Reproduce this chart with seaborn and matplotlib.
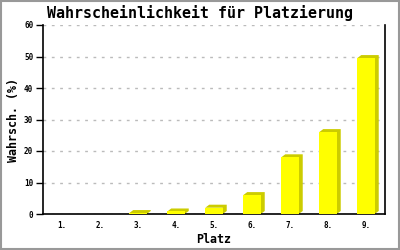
import matplotlib
matplotlib.use("Agg")
import matplotlib.pyplot as plt
from matplotlib.patches import Polygon, Rectangle
import seaborn as sns
import pandas as pd

plaetze = ["1.", "2.", "3.", "4.", "5.", "6.", "7.", "8.", "9."]
wahrsch = [0.0, 0.0, 0.3, 0.8, 2.0, 6.0, 18.0, 26.0, 49.5]
y_ticks = [0, 10, 20, 30, 40, 50, 60]

title = "Wahrscheinlichkeit für Platzierung"
xlabel = "Platz"
ylabel = "Wahrsch. (%)"

sns.set_theme(style="white")
plt.rcParams['font.family'] = ['DejaVu Sans Mono', 'DejaVu Sans']
plt.rcParams['text.color'] = 'black'
plt.rcParams['axes.labelcolor'] = 'black'
plt.rcParams['xtick.color'] = 'black'
plt.rcParams['ytick.color'] = 'black'

df = pd.DataFrame({"Platz": plaetze, "Wahrsch": wahrsch})

fig = plt.figure(figsize=(4, 2.5), dpi=100)
ax = fig.add_axes([0.1075, 0.144, 0.855, 0.756])

front = "#FFFF00"
side = "#CCCC00"

sns.barplot(data=df, x="Platz", y="Wahrsch", color=front, saturation=1,
            width=0.46, ax=ax, zorder=3, linewidth=0)

ax.set_xlim(-0.5, 8.5)
ax.set_ylim(0, 60)
ax.set_yticks(y_ticks)
ax.set_yticklabels([str(v) for v in y_ticks])

# 3D depth: offsets in data units (4 px right, 3 px up)
ax_w_px = 0.855 * 400
ax_h_px = 0.756 * 250
dx = 4 * 9.0 / ax_w_px
dy = 3 * 60.0 / ax_h_px
for p in ax.patches:
    h = p.get_height()
    if h <= 0:
        continue
    x0 = p.get_x()
    x1 = x0 + p.get_width()
    verts = [(x0, h), (x0 + dx, h + dy), (x1 + dx, h + dy),
             (x1 + dx, dy), (x1, 0), (x1, h)]
    ax.add_patch(Polygon(verts, closed=True, facecolor=side, edgecolor="none",
                         zorder=2.5))

ax.yaxis.grid(True, color="#bbbbbb", linestyle=(0, (2, 4)), linewidth=1, zorder=0)
ax.xaxis.grid(False)

for s in ["left", "bottom", "right"]:
    ax.spines[s].set_visible(True)
    ax.spines[s].set_color("black")
    ax.spines[s].set_linewidth(1.2)
ax.spines["top"].set_visible(False)

ax.tick_params(axis="y", length=5, width=1, color="black", direction="out",
               labelsize=5.5, pad=2, left=True)
ax.tick_params(axis="x", length=0, labelsize=5.5, pad=5)
for lab in ax.get_xticklabels() + ax.get_yticklabels():
    lab.set_fontweight("bold")

ax.set_xlabel(xlabel, fontsize=8.4, fontweight="bold", labelpad=2)
ax.set_ylabel(ylabel, fontsize=8.4, fontweight="bold", labelpad=3)

fig.text(0.5, 0.948, title, ha="center", va="center", fontsize=10.8,
         fontweight="bold")

fig.patches.append(Rectangle((0.002, 0.003), 0.996, 0.994, transform=fig.transFigure,
                             fill=False, edgecolor="#999999", linewidth=1.5))

fig.savefig("out.png", dpi=100, facecolor="white")
